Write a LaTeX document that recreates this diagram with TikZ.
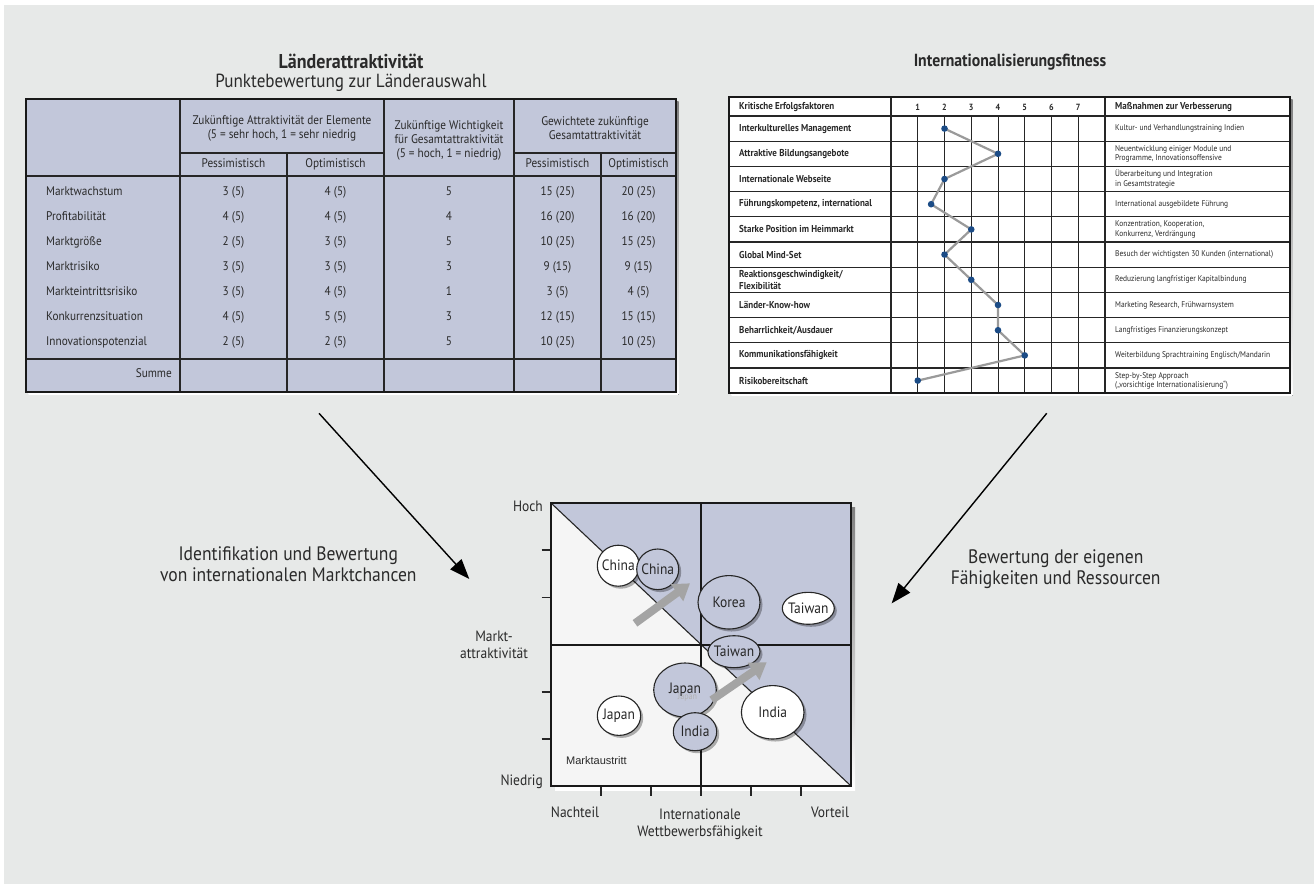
\documentclass[tikz,border=0pt]{standalone}
\usepackage{fontspec}
\setmainfont{PT Sans}[FakeStretch=0.9]
\newfontfamily\arialfont{Liberation Sans}
\usetikzlibrary{arrows.meta,shapes.geometric,shadows}

\definecolor{bggray}{HTML}{E7E9E8}
\definecolor{tblblue}{HTML}{C2C7DA}
\definecolor{paleq}{HTML}{F5F5F5}
\definecolor{inkgray}{HTML}{2A2A2A}
\definecolor{shade}{HTML}{9E9E9E}
\definecolor{dotblue}{HTML}{1C4C86}
\definecolor{chain}{HTML}{9A9A9A}
\definecolor{movegray}{HTML}{A4A4A4}

\tikzset{
  ttl/.style={font=\fontsize{20}{23}\selectfont\bfseries, text=inkgray, inner sep=0},
  sub/.style={font=\fontsize{19}{23}\selectfont, text=inkgray, inner sep=0},
  ltxt/.style={font=\fontsize{12.5}{14}\selectfont, text=inkgray, inner sep=0, align=center},
  rlab/.style={font=\fontsize{10}{11.7}\selectfont\bfseries, text=inkgray, inner sep=0, anchor=west, align=left},
  rnote/.style={font=\fontsize{8.3}{9.3}\selectfont, text=inkgray, inner sep=0, anchor=west, align=left},
  rnum/.style={font=\fontsize{9}{10}\selectfont\bfseries, text=inkgray, inner sep=0, anchor=mid},
  tline/.style={draw=black!85, line width=1.1pt},
  tframe/.style={draw=black!90, line width=2.4pt},
  axl/.style={font=\fontsize{15}{17}\selectfont, text=inkgray, inner sep=0, align=center},
  lbl/.style={font=\fontsize{19.5}{21}\selectfont, text=inkgray, inner sep=0, align=center},
  bubble/.style={ellipse, draw=black!85, line width=1.1pt, inner sep=0,
    drop shadow={shadow xshift=2.5pt, shadow yshift=-2.5pt, fill=black, opacity=0.3}},
  bwhite/.style={bubble, fill=white},
  bblue/.style={bubble, fill=tblblue},
  btxt/.style={font=\fontsize{15}{17}\selectfont, text=black!85, inner sep=0},
  garrow/.style={draw=movegray, line width=8pt, -{Triangle[length=16pt,width=20pt]}},
  barrow/.style={draw=black, line width=1.4pt, -{Triangle[length=20pt,width=15pt]}},
}

\begin{document}
\begin{tikzpicture}[x=1pt,y=-1pt]
\useasboundingbox (0,0) rectangle (1314,884);
\fill[white] (0,0) rectangle (1314,884);
\fill[bggray] (4,5) rectangle (1314,884);

% ---------------- titles
\node[ttl, anchor=base] (tLeft) at (351,68.5) {Länderattraktivität};
\node[sub, anchor=base] (tSub) at (351,87.5) {Punktebewertung zur Länderauswahl};
\node[ttl, font=\fontsize{17.5}{21}\selectfont\bfseries] (tRight) at (1010,62) {Internationalisierungsfitness};

% ---------------- country attractiveness table
\fill[shade] (28.5,101.5) rectangle (678.5,394.5);
\fill[tblblue] (26,99) rectangle (676,392);
\draw[tline] (180,153) -- (384,153) (514,153) -- (676,153);
\draw[tline] (26,176) -- (676,176) (26,359) -- (676,359);
\draw[tline] (180,99) -- (180,392) (287,153) -- (287,392) (384,99) -- (384,392)
             (514,99) -- (514,392) (601,153) -- (601,392);
\draw[tframe] (26,99) rectangle (676,392);

\node[ltxt] (hAttr) at (282,128) {Zukünftige Attraktivität der Elemente\\(5 = sehr hoch, 1 = sehr niedrig};
\node[ltxt] (hWeight) at (449,140) {Zukünftige Wichtigkeit\\für Gesamtattraktivität\\(5 = hoch, 1 = niedrig)};
\node[ltxt] (hTotal) at (595,128) {Gewichtete zukünftige\\Gesamtattraktivität};
\node[ltxt, anchor=mid] (hP1) at (233.5,165) {Pessimistisch};
\node[ltxt, anchor=mid] (hO1) at (335.5,165) {Optimistisch};
\node[ltxt, anchor=mid] (hP2) at (557.5,165) {Pessimistisch};
\node[ltxt, anchor=mid] (hO2) at (638.5,165) {Optimistisch};

\foreach \lab/\pa/\oa/\w/\pg/\og [count=\i] in {
  Marktwachstum/3 (5)/4 (5)/5/15 (25)/20 (25),
  Profitabilität/4 (5)/4 (5)/4/16 (20)/16 (20),
  Marktgröße/2 (5)/3 (5)/5/10 (25)/15 (25),
  Marktrisiko/3 (5)/3 (5)/3/9 (15)/9 (15),
  Markteintrittsrisiko/3 (5)/4 (5)/1/3 (5)/4 (5),
  Konkurrenzsituation/4 (5)/5 (5)/3/12 (15)/15 (15),
  Innovationspotenzial/2 (5)/2 (5)/5/10 (25)/10 (25)}
{
  \pgfmathsetmacro\yy{168+25*\i}
  \node[ltxt, anchor=mid west] (rowL\i) at (46,\yy) {\lab};
  \node[ltxt, anchor=mid] (rowPa\i) at (233.5,\yy) {\pa};
  \node[ltxt, anchor=mid] (rowOa\i) at (335.5,\yy) {\oa};
  \node[ltxt, anchor=mid] (rowW\i) at (449,\yy) {\w};
  \node[ltxt, anchor=mid] (rowPg\i) at (557.5,\yy) {\pg};
  \node[ltxt, anchor=mid] (rowOg\i) at (638.5,\yy) {\og};
}
\node[ltxt, anchor=mid east] (sumL) at (172,375) {Summe};

% ---------------- fitness profile
\fill[shade] (731.5,99.5) rectangle (1292.5,395.5);
\fill[white] (729,97) rectangle (1290,393);
\draw[tline] (729,116) -- (1290,116);
\foreach \k in {1,...,10} \draw[tline] (729,{116+25.2*\k}) -- (1290,{116+25.2*\k});
\draw[tline] (891,97) -- (891,393) (1105,97) -- (1105,393);
\foreach \k in {1,...,7} {
  \draw[tline, line width=1pt] ({891+26.75*\k},116) -- ({891+26.75*\k},393);
  \node[rnum] (num\k) at ({891+26.75*\k},108) {\k};
}
\draw[tframe] (729,97) rectangle (1290,393);

\node[rlab, anchor=mid west] (kHead) at (739,107) {Kritische Erfolgsfaktoren};
\node[rlab, anchor=mid west] (mHead) at (1115,107) {Maßnahmen zur Verbesserung};

\node[rlab] (k1) at (739,128.6) {Interkulturelles Management};
\node[rlab] (k2) at (739,153.8) {Attraktive Bildungsangebote};
\node[rlab] (k3) at (739,179) {Internationale Webseite};
\node[rlab] (k4) at (739,204.2) {Führungskompetenz, international};
\node[rlab] (k5) at (739,229.4) {Starke Position im Heimmarkt};
\node[rlab] (k6) at (739,254.6) {Global Mind-Set};
\node[rlab] (k7) at (739,279.8) {Reaktionsgeschwindigkeit/\\Flexibilität};
\node[rlab] (k8) at (739,305) {Länder-Know-how};
\node[rlab] (k9) at (739,330.2) {Beharrlichkeit/Ausdauer};
\node[rlab] (k10) at (739,355.4) {Kommunikationsfähigkeit};
\node[rlab] (k11) at (739,380.6) {Risikobereitschaft};

\node[rnote] (m1) at (1115,128.6) {Kultur- und Verhandlungstraining Indien};
\node[rnote] (m2) at (1115,153.8) {Neuentwicklung einiger Module und\\Programme, Innovationsoffensive};
\node[rnote] (m3) at (1115,179) {Überarbeitung und Integration\\in Gesamtstrategie};
\node[rnote] (m4) at (1115,204.2) {International ausgebildete Führung};
\node[rnote] (m5) at (1115,229.4) {Konzentration, Kooperation,\\Konkurrenz, Verdrängung};
\node[rnote] (m6) at (1115,254.6) {Besuch der wichtigsten 30 Kunden (international)};
\node[rnote] (m7) at (1115,279.8) {Reduzierung langfristiger Kapitalbindung};
\node[rnote] (m8) at (1115,305) {Marketing Research, Frühwarnsystem};
\node[rnote] (m9) at (1115,330.2) {Langfristiges Finanzierungskonzept};
\node[rnote] (m10) at (1115,355.4) {Weiterbildung Sprachtraining Englisch/Mandarin};
\node[rnote] (m11) at (1115,380.6) {Step-by-Step Approach\\(„vorsichtige Internationalisierung“)};

\coordinate (p1) at (944.5,128.6);
\coordinate (p2) at (998,153.8);
\coordinate (p3) at (944.5,179);
\coordinate (p4) at (931.1,204.2);
\coordinate (p5) at (971.25,229.4);
\coordinate (p6) at (944.5,254.6);
\coordinate (p7) at (971.25,279.8);
\coordinate (p8) at (998,305);
\coordinate (p9) at (998,330.2);
\coordinate (p10) at (1024.75,355.4);
\coordinate (p11) at (917.75,380.6);
\draw[chain, line width=2.2pt, line join=round]
  (p1) -- (p2) -- (p3) -- (p4) -- (p5) -- (p6) -- (p7) -- (p8) -- (p9) -- (p10) -- (p11);
\foreach \k in {1,...,11} \fill[dotblue] (p\k) circle (3.3pt);

% ---------------- portfolio matrix
\fill[shade] (555,507) rectangle (855,790);
\fill[paleq] (551,503) -- (551,786) -- (851,786) -- cycle;
\fill[tblblue] (551,503) -- (851,503) -- (851,786) -- cycle;
\draw[black!85, line width=1.1pt] (551,503) -- (851,786);
\draw[black!90, line width=2pt] (701,503) -- (701,786) (551,644.5) -- (851,644.5);
\foreach \t in {550.2,597.3,691.7,738.8} \draw[black!85, line width=1.6pt] (541.5,\t) -- (551,\t);
\foreach \t in {601,651,701,751,801} \draw[black!85, line width=1.6pt] (\t,786) -- (\t,795.5);
\draw[black!90, line width=2pt] (551,503) rectangle (851,786);

\node[axl, anchor=mid east] (aHigh) at (543,509) {Hoch};
\node[axl, anchor=mid east] (aLow) at (543,783) {Niedrig};
\node[axl] (aY) at (494,645) {Markt-\\attraktivität};
\node[axl, anchor=mid] (aDis) at (575,815) {Nachteil};
\node[axl] (aX) at (700,824) {Internationale\\Wettbewerbsfähigkeit};
\node[axl, anchor=mid] (aAdv) at (830,815) {Vorteil};
\node[font=\arialfont\fontsize{11}{13}\selectfont, text=inkgray, inner sep=0, anchor=mid west] (exitL) at (566,762) {Marktaustritt};

% bubbles: white = today, blue = target position
\node[bwhite, minimum width=42pt, minimum height=41pt] (chinaW) at (618.3,565.7) {};
\node[btxt] (chinaWt) at (chinaW) {China};
\node[bblue, minimum width=42pt, minimum height=40.6pt] (chinaB) at (657.7,569.3) {};
\node[btxt] (chinaBt) at (chinaB) {China};
\node[bblue, minimum width=62pt, minimum height=53.4pt] (koreaB) at (729,602.3) {};
\node[btxt] (koreaBt) at (koreaB) {Korea};
\node[bwhite, minimum width=52pt, minimum height=32pt] (taiwanW) at (808.3,608.3) {};
\node[btxt] (taiwanWt) at (taiwanW) {Taiwan};
\node[bblue, minimum width=52pt, minimum height=32pt] (taiwanB) at (734,651.7) {};
\node[btxt] (taiwanBt) at (taiwanB) {Taiwan};
\node[bwhite, minimum width=43.4pt, minimum height=39.4pt] (japanW) at (619,715.7) {};
\node[btxt] (japanWt) at (japanW) {Japan};
\node[bblue, minimum width=62.6pt, minimum height=54pt] (japanB) at (685,690) {};
\node[font=\fontsize{9}{10}\selectfont, text=black!30, inner sep=0] (japanGhost) at (687.5,697.5) {Japan};
\node[btxt] (japanBt) at (japanB) {Japan};
\node[bblue, minimum width=43.4pt, minimum height=38pt] (indiaB) at (695,731.7) {};
\node[btxt] (indiaBt) at (indiaB) {India};
\node[bwhite, minimum width=62.6pt, minimum height=53.4pt] (indiaW) at (772.7,712.3) {};
\node[btxt] (indiaWt) at (indiaW) {India};

\coordinate (mvA0) at (635,623.3);
\coordinate (mvA1) at (690,583.3);
\coordinate (mvB0) at (711.7,700);
\coordinate (mvB1) at (766.7,662.3);
\draw[garrow] (mvA0) -- (mvA1);
\draw[garrow] (mvB0) -- (mvB1);

% ---------------- flows into the matrix
\coordinate (flowL0) at (319,413.3);
\coordinate (flowL1) at (469.3,579);
\coordinate (flowR0) at (1046.7,413.3);
\coordinate (flowR1) at (891.7,603.3);
\draw[barrow] (flowL0) -- (flowL1);
\draw[barrow] (flowR0) -- (flowR1);

\node[lbl] (lblL) at (288.3,563.8) {Identifikation und Bewertung\\von internationalen Marktchancen};
\node[lbl] (lblR) at (1055.7,569.6) {Bewertung der eigenen\\Fähigkeiten und Ressourcen};
\end{tikzpicture}
\end{document}
